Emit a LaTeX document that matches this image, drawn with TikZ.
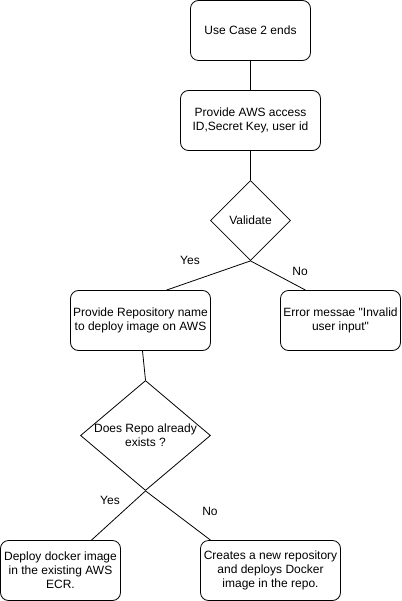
\documentclass[tikz,border=0pt]{standalone}
\usepackage{fontspec}
\setmainfont{Liberation Sans}[Ligatures=TeXOff]
\usetikzlibrary{shapes.geometric,calc}
\begin{document}
\begin{tikzpicture}[x=1pt,y=-1pt,line width=0.8pt,
  box/.style={draw,rounded corners=8pt,inner sep=0pt,align=center,font=\fontsize{12}{14}\selectfont},
  dia/.style={draw,diamond,inner sep=0pt},
  txt/.style={align=center,inner sep=0pt,font=\fontsize{12}{14}\selectfont},
  conn/.style={draw}]
\useasboundingbox (0,0) rectangle (401,601);
\node[box,minimum width=120,minimum height=60] (start) at (250.5,30.5) {Use Case 2 ends};
\node[box,minimum width=140,minimum height=60] (cred) at (250.5,120.5) {Provide AWS access\\ID,Secret Key, user id};
\node[dia,minimum width=80,minimum height=80] (val) at (250.5,220.5) {};
\node[txt] (valt) at (val) {Validate};
\node[box,minimum width=140,minimum height=60] (repo) at (140.5,320.5) {Provide Repository name\\to deploy image on AWS};
\node[box,minimum width=120,minimum height=60] (err) at (340.5,320.5) {Error messae "Invalid\\user input"};
\node[dia,minimum width=130,minimum height=110] (exist) at (145.5,435.5) {};
\node[txt] (existt) at (145.5,435.5) {Does Repo already\\exists ?};
\node[box,minimum width=120,minimum height=60] (dep) at (60.5,570.5) {Deploy docker image\\in the existing AWS\\ECR.};
\node[box,minimum width=140,minimum height=60] (new) at (270.5,570.5) {Creates a new repository\\and deploys Docker\\image in the repo.};
\coordinate (c1) at ($(repo.north)+(26,0)$);
\coordinate (c2) at ($(err.north)+(-35,0)$);
\coordinate (c3) at ($(repo.south)+(2,0)$);
\coordinate (c4) at ($(dep.north)+(31,0)$);
\coordinate (c5) at ($(new.north)+(-60,0)$);
\draw[conn] (start.south) -- (cred.north);
\draw[conn] (cred.south) -- (val.north);
\draw[conn] (val.south) -- (c1);
\draw[conn] (val.south) -- (c2);
\draw[conn] (c3) -- (exist.north);
\draw[conn] (exist.south) -- (c4);
\draw[conn] (exist.south) -- (c5);
\node[txt] (y1) at (190,260) {Yes};
\node[txt] (n1) at (300,271) {No};
\node[txt] (y2) at (110,500) {Yes};
\node[txt] (n2) at (210,511) {No};
\end{tikzpicture}
\end{document}
